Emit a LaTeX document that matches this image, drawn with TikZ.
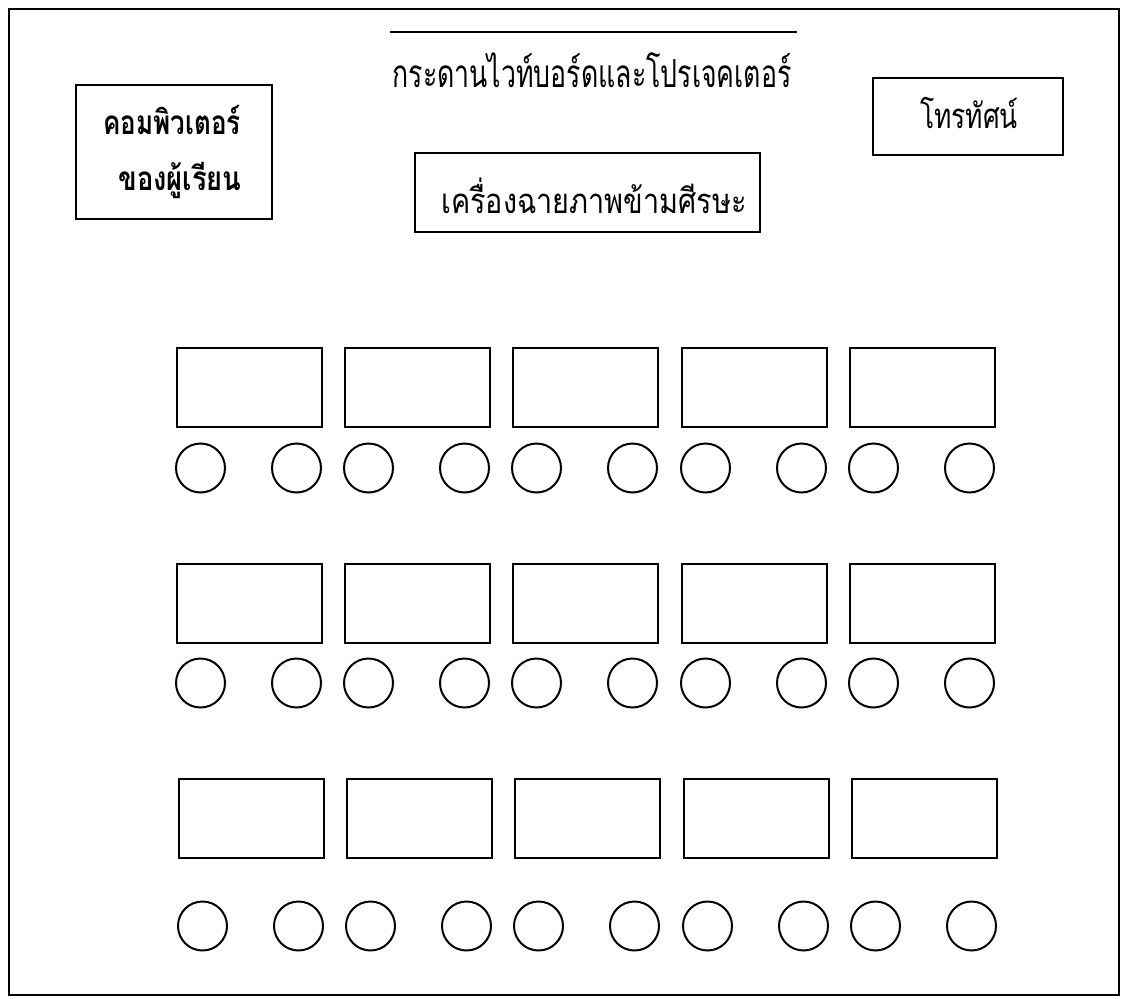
\documentclass[tikz,border=0pt]{standalone}
\usepackage{fontspec}
\newfontfamily\thaifont[Script=Thai]{Loma}
\begin{document}
\begin{tikzpicture}[x=0.75pt,y=-0.75pt,
  line/.style={line width=1.7pt},
  desk/.style={draw,line width=1.7pt,minimum width=108.75pt,minimum height=59pt,inner sep=0pt,anchor=north west},
  seat/.style={draw,line width=1.5pt,circle,minimum size=36.75pt,inner sep=0pt},
  label/.style={inner sep=0pt,anchor=base},
  equip/.style={draw,line width=1.7pt,inner sep=0pt,anchor=north west}]
\useasboundingbox (0,0) rectangle (1124,999);
\node[draw,line width=1.6pt,inner sep=0pt,minimum width=832.5pt,minimum height=739.5pt,anchor=north west] (room) at (8,8) {};
\coordinate (bl) at (390,32);
\coordinate (br) at (797,32);
\draw[line] (bl) -- (br);
\node[label] (board) at (592,88) {\thaifont\fontsize{29}{32}\selectfont\scalebox{0.69}[1]{กระดานไวท์บอร์ดและโปรเจคเตอร์}};
\node[equip,minimum width=147pt,minimum height=100.5pt] (pc) at (75,84) {};
\node[label] (pc1) at (172,134) {\thaifont\bfseries\fontsize{25}{28}\selectfont\scalebox{0.78}[1]{คอมพิวเตอร์}};
\node[label] (pc2) at (180,190) {\thaifont\bfseries\fontsize{25}{28}\selectfont\scalebox{0.82}[1]{ของผู้เรียน}};
\node[equip,minimum width=258.75pt,minimum height=59.25pt] (ohp) at (414,152) {};
\node[label] (ohpt) at (594,213) {\thaifont\fontsize{26}{29}\selectfont\scalebox{0.83}[1]{เครื่องฉายภาพข้ามศีรษะ}};
\node[equip,minimum width=142.5pt,minimum height=57.75pt] (tv) at (872,77) {};
\node[label] (tvt) at (969,128) {\thaifont\fontsize{26}{29}\selectfont\scalebox{0.76}[1]{โทรทัศน์}};
\foreach \r/\y/\dx/\cy in {1/347/0/121, 2/563/0/120, 3/778/2/148}{
  \foreach \c/\x in {1/176,2/344,3/512,4/681,5/849}{
    \node[desk] (d\r\c) at (\x+\dx,\y) {};
    \node[seat] (s\r\c a) at (\x+\dx+24.5,\y+\cy) {};
    \node[seat] (s\r\c b) at (\x+\dx+145-24.5,\y+\cy) {};
  }
}
\end{tikzpicture}
\end{document}
